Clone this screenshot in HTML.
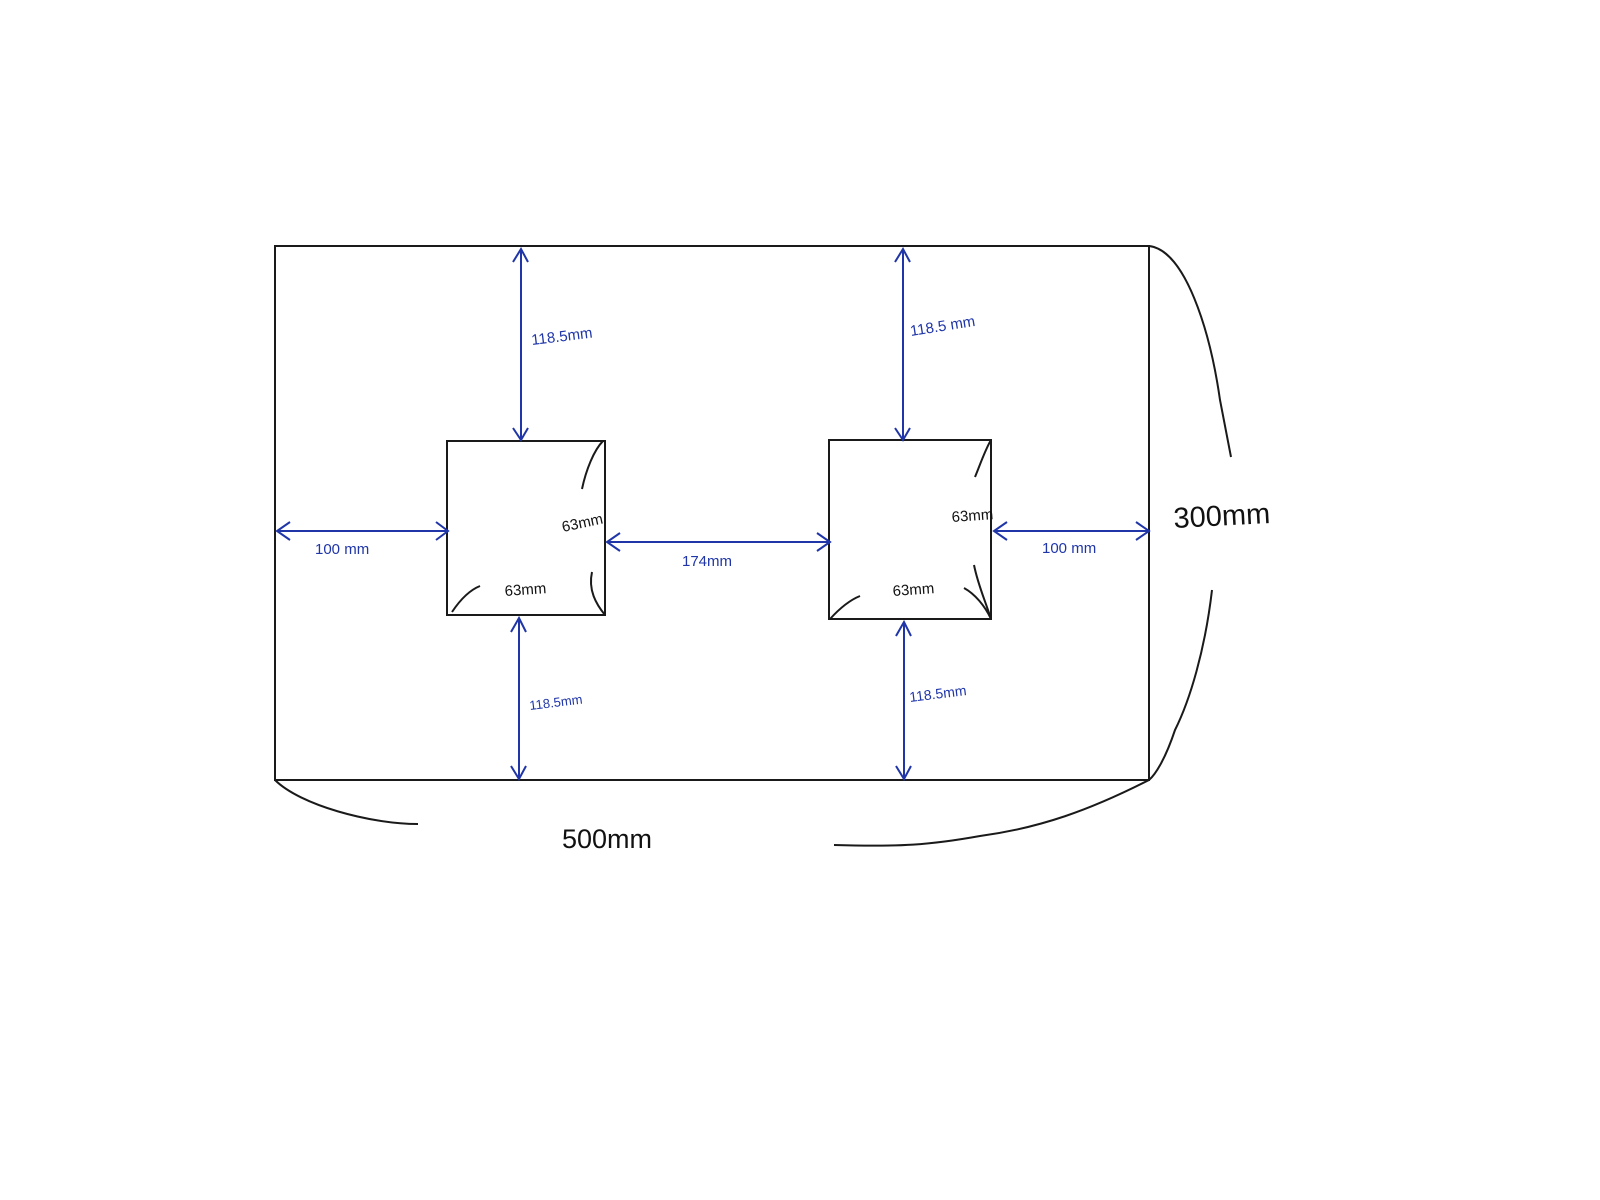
<!DOCTYPE html>
<html><head><meta charset="utf-8"><style>html,body{margin:0;padding:0;background:#fff}svg{display:block}</style></head>
<body>
<svg width="1600" height="1200" viewBox="0 0 1600 1200" xmlns="http://www.w3.org/2000/svg" font-family="Liberation Sans, sans-serif">
<rect width="1600" height="1200" fill="#fff"/>
<g fill="none" stroke="#1a1a1a" stroke-width="2">
<rect x="275" y="246" width="874" height="534"/>
<rect x="447" y="441" width="158" height="174"/>
<rect x="829" y="440" width="162" height="179"/>
<path d="M1149 246 C1185 250 1210 330 1220 400 L1231 457"/>
<path d="M1212 590 C1205 650 1190 700 1175 730 C1165 760 1155 775 1149 780"/>
<path d="M275 780 C300 805 370 824 418 824"/>
<path d="M834 845 C900 847 930 845 980 836 C1040 828 1090 810 1149 780"/>
<path d="M582 489 C586 470 594 450 603 441"/>
<path d="M592 572 C588 590 596 604 605 615"/>
<path d="M452 612 C460 600 470 590 480 586"/>
<path d="M975 477 C980 465 985 450 991 440"/>
<path d="M974 565 C978 585 985 600 991 619"/>
<path d="M964 588 C975 594 985 606 991 619"/>
<path d="M830 619 C840 608 850 600 860 596"/>
</g>
<g fill="none" stroke="#1f35a8" stroke-width="2">
<path d="M521 249 V439 M513 262 L521 249 L528 262 M513 428 L521 440 L528 428"/>
<path d="M903 249 V439 M895 262 L903 249 L910 262 M895 428 L903 440 L910 428"/>
<path d="M519 618 V778 M511 632 L519 618 L526 632 M511 766 L519 779 L526 766"/>
<path d="M904 622 V778 M896 636 L904 622 L911 636 M896 766 L904 779 L911 766"/>
<path d="M277 531 H447 M290 522 L277 531 L290 540 M436 522 L448 531 L436 540"/>
<path d="M607 542 H829 M620 533 L607 542 L620 551 M817 533 L830 542 L817 551"/>
<path d="M994 531 H1148 M1007 522 L994 531 L1007 540 M1136 522 L1149 531 L1136 540"/>
</g>
<g fill="#1f35a8" font-size="15">
<text x="532" y="345" transform="rotate(-7 532 345)">118.5mm</text>
<text x="911" y="336" transform="rotate(-9 911 336)">118.5 mm</text>
<text x="530" y="710" transform="rotate(-7 530 710)" font-size="13">118.5mm</text>
<text x="910" y="702" transform="rotate(-7 910 702)" font-size="14">118.5mm</text>
<text x="315" y="554">100 mm</text>
<text x="682" y="566">174mm</text>
<text x="1042" y="553">100 mm</text>
</g>
<g fill="#111" font-size="15">
<text x="563" y="532" transform="rotate(-12 563 532)">63mm</text>
<text x="505" y="596" transform="rotate(-4 505 596)">63mm</text>
<text x="952" y="522" transform="rotate(-4 952 522)">63mm</text>
<text x="893" y="596" transform="rotate(-4 893 596)">63mm</text>
<text x="1174" y="528" font-size="29" transform="rotate(-3 1174 528)">300mm</text>
<text x="562" y="848" font-size="27">500mm</text>
</g>
</svg>
</body></html>
